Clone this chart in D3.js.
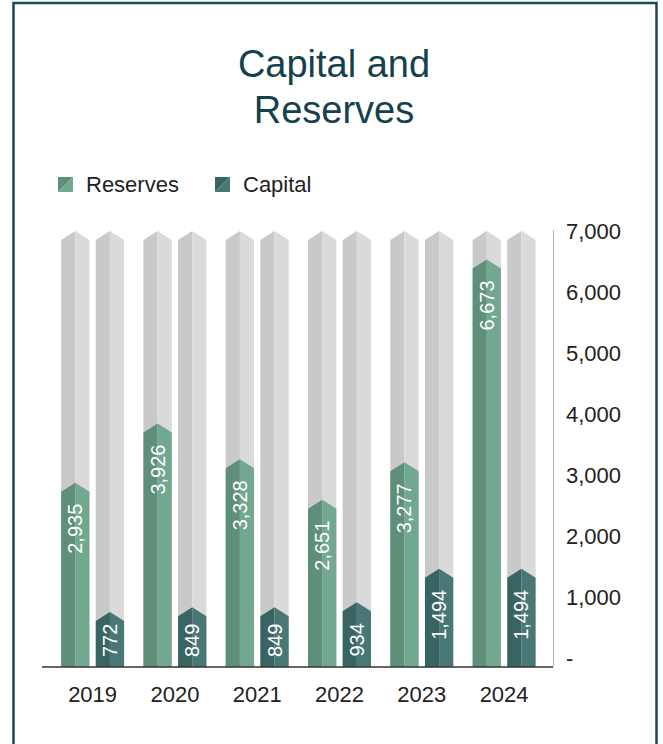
<!DOCTYPE html>
<html>
<head>
<meta charset="utf-8">
<script src="https://cdn.jsdelivr.net/npm/d3@7"></script>
<style>
  html, body { margin: 0; padding: 0; background: #ffffff; }
  svg { display: block; }
  text { font-family: "Liberation Sans", Arial, Helvetica, sans-serif; }
</style>
</head>
<body>
<svg id="chart" width="663" height="744"></svg>
<script>
// Capital and reserves by year
const years = ["2019", "2020", "2021", "2022", "2023", "2024"];
const reserves = [2935, 3926, 3328, 2651, 3277, 6673];
const capital = [772, 849, 849, 934, 1494, 1494];
const seriesNames = ["Reserves", "Capital"];
const yTicks = [0, 1000, 2000, 3000, 4000, 5000, 6000, 7000];
const trackMax = 7150; // height of the grey track behind each bar

const colors = {
  Reserves: { dark: "#5f8f78", light: "#72a890" },
  Capital: { dark: "#3a6462", light: "#477876" },
  Track: { dark: "#c9c9c9", light: "#dadada" }
};

const svg = d3.select("#chart");
const W = 663, H = 744;

// frame
svg.append("rect")
  .attr("x", 13.5).attr("y", 3)
  .attr("width", 643).attr("height", H + 20)
  .attr("fill", "none")
  .attr("stroke", "#1d4955")
  .attr("stroke-width", 2.5);

// title
const title = svg.append("text")
  .attr("text-anchor", "middle")
  .attr("fill", "#15414d")
  .style("font-size", "38px");
title.append("tspan").attr("x", 334).attr("y", 77).text("Capital and");
title.append("tspan").attr("x", 334).attr("y", 123).text("Reserves");

// scales
const baseY = 667;
const y = d3.scaleLinear().domain([0, trackMax]).range([baseY, 240]);
const yAxisScale = d3.scaleLinear().domain([0, 7000]).range([658, 231]);
const x = d3.scaleBand().domain(years).range([51.45, 545.25]).padding(0);
const xInner = d3.scaleBand().domain(seriesNames).range([0, x.bandwidth()])
  .paddingInner(0.182).paddingOuter(0.279);

const tipRise = 9;

function halfPaths(x0, w, top) {
  const xc = x0 + w / 2, x1 = x0 + w;
  const left = `M${x0},${baseY}L${x0},${top}L${xc},${top - tipRise}L${xc},${baseY}Z`;
  const right = `M${xc},${baseY}L${xc},${top - tipRise}L${x1},${top}L${x1},${baseY}Z`;
  return [left, right];
}

const rows = years.map((yr, i) => ({ year: yr, Reserves: reserves[i], Capital: capital[i] }));

const groups = svg.append("g").selectAll("g")
  .data(rows).join("g")
  .attr("transform", d => `translate(${x(d.year)},0)`);

seriesNames.forEach(name => {
  const bw = xInner.bandwidth();
  // grey track
  groups.each(function(d) {
    const g = d3.select(this);
    const x0 = xInner(name);
    const [l, r] = halfPaths(x0, bw, y(trackMax));
    g.append("path").attr("d", l).attr("fill", colors.Track.dark);
    g.append("path").attr("d", r).attr("fill", colors.Track.light);
  });
});

seriesNames.forEach(name => {
  const bw = xInner.bandwidth();
  groups.each(function(d) {
    const g = d3.select(this);
    const x0 = xInner(name);
    const top = y(d[name]);
    const [l, r] = halfPaths(x0, bw, top);
    g.append("path").attr("d", l).attr("fill", colors[name].dark);
    g.append("path").attr("d", r).attr("fill", colors[name].light);

    // value label, rotated, reading upwards
    const cx = x0 + bw / 2;
    const t = g.append("text")
      .attr("text-anchor", "end")
      .attr("dy", "0.35em")
      .attr("fill", "#ffffff")
      .style("font-size", "20px")
      .text(d3.format(",")(d[name]));
    const len = t.node().getComputedTextLength();
    const topEnd = Math.min(top + 12, baseY - 10 - len);
    t.attr("transform", `translate(${cx},${topEnd}) rotate(-90)`);
  });
});

// baseline
svg.append("line")
  .attr("x1", 42).attr("x2", 553)
  .attr("y1", baseY).attr("y2", baseY)
  .attr("stroke", "#333333").attr("stroke-width", 1.5);

// vertical axis line
svg.append("line")
  .attr("x1", 553.5).attr("x2", 553.5)
  .attr("y1", 230).attr("y2", baseY)
  .attr("stroke", "#b5b5b5").attr("stroke-width", 1);

// value axis labels
const yAxis = d3.axisRight(yAxisScale)
  .tickValues(yTicks)
  .tickSize(0)
  .tickPadding(0)
  .tickFormat(v => v === 0 ? "-" : d3.format(",")(v));
const ya = svg.append("g").attr("transform", "translate(566,0)").call(yAxis);
ya.select(".domain").remove();
ya.selectAll("text")
  .attr("fill", "#222222")
  .style("font-size", "22px")
  .style("font-family", "'Liberation Sans', Arial, sans-serif");

// year labels
const xAxis = d3.axisBottom(x).tickSize(0).tickPadding(0);
const xa = svg.append("g").attr("transform", `translate(0,${baseY + 19})`).call(xAxis);
xa.select(".domain").remove();
xa.selectAll("text")
  .attr("fill", "#222222")
  .style("font-size", "22px")
  .style("font-family", "'Liberation Sans', Arial, sans-serif");

// legend
const legend = svg.append("g");
const legendItems = [
  { name: "Reserves", x: 58 },
  { name: "Capital", x: 215 }
];
legendItems.forEach(it => {
  const s = 15, ly = 177;
  const c = colors[it.name];
  legend.append("path")
    .attr("d", `M${it.x},${ly}L${it.x + s},${ly}L${it.x},${ly + s}Z`)
    .attr("fill", c.dark);
  legend.append("path")
    .attr("d", `M${it.x + s},${ly}L${it.x + s},${ly + s}L${it.x},${ly + s}Z`)
    .attr("fill", c.light);
  legend.append("text")
    .attr("x", it.x + 28).attr("y", ly + 15)
    .attr("fill", "#222222")
    .style("font-size", "22px")
    .text(it.name);
});
</script>
</body>
</html>
